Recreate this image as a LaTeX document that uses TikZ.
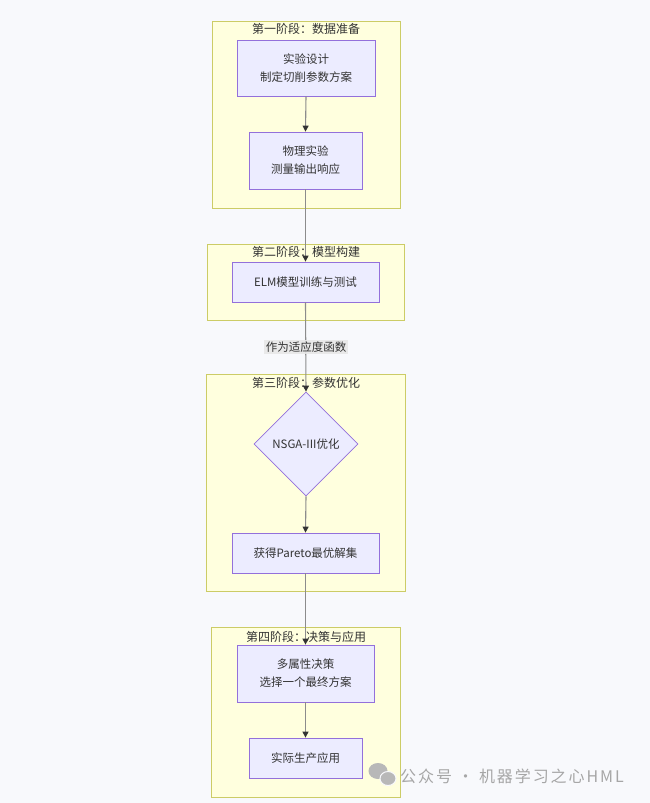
\documentclass[tikz,border=0pt]{standalone}
\usepackage{fontspec}
\setmainfont{Noto Sans CJK SC}
\newfontfamily\wmfont[LetterSpace=12]{Noto Sans CJK SC}
\usetikzlibrary{shapes.geometric,arrows.meta}
\definecolor{bgc}{HTML}{F8F9FC}
\definecolor{clfill}{HTML}{FFFFDE}
\definecolor{clline}{HTML}{CCCC66}
\definecolor{ndfill}{HTML}{ECECFF}
\definecolor{ndline}{HTML}{9370DB}
\definecolor{edge}{HTML}{8C8C8C}
\definecolor{tipc}{HTML}{333333}
\definecolor{txt}{HTML}{333333}
\definecolor{lblbg}{HTML}{E8E8E8}
\definecolor{wm}{HTML}{A6A6A6}
\tikzset{
  cluster/.style={draw=clline, fill=clfill, line width=0.8pt, inner sep=0pt},
  ctitle/.style={font=\fontsize{12}{14}\selectfont, text=txt, inner sep=0pt},
  box/.style={draw=ndline, fill=ndfill, line width=0.8pt, inner sep=0pt, align=center,
    font=\fontsize{11.5}{18}\selectfont, text=txt},
  dia/.style={diamond, draw=ndline, fill=ndfill, line width=0.8pt, inner sep=0pt,
    font=\fontsize{11.5}{14}\selectfont, text=txt},
  flow/.style={draw=edge, line width=1.1pt, -{Triangle[length=6pt,width=6pt,color=tipc]}},
  elabel/.style={fill=lblbg, fill opacity=0.9, text opacity=1, text=txt,
    font=\fontsize{11.5}{14}\selectfont, inner xsep=2pt, inner ysep=2pt}
}
\begin{document}
\begin{tikzpicture}[x=1pt,y=-1pt]
\fill[bgc] (0,0) rectangle (650,803);
\useasboundingbox (0,0) rectangle (650,803);
% clusters
\node[cluster, minimum width=188pt, minimum height=187pt] (c1) at (306,114.5) {};
\node[cluster, minimum width=197pt, minimum height=76pt] (c2) at (305.5,282) {};
\node[cluster, minimum width=199pt, minimum height=217pt] (c3) at (305.5,482.5) {};
\node[cluster, minimum width=189pt, minimum height=170pt] (c4) at (305.5,712) {};
\node[ctitle] (t1) at (306,29) {第一阶段：数据准备};
\node[ctitle] (t2) at (306,252) {第二阶段：模型构建};
\node[ctitle] (t3) at (306,383) {第三阶段：参数优化};
\node[ctitle] (t4) at (306,637) {第四阶段：决策与应用};
% nodes
\node[box, minimum width=138pt, minimum height=56pt] (A) at (306,68) {实验设计\\制定切削参数方案};
\node[box, minimum width=113pt, minimum height=57pt] (B) at (305.5,160.5) {物理实验\\测量输出响应};
\node[box, minimum width=147pt, minimum height=40pt] (C) at (305.5,282) {ELM模型训练与测试};
\node[dia, minimum width=104pt, minimum height=104pt] (D) at (306,444) {NSGA-III优化};
\node[box, minimum width=147pt, minimum height=40pt] (E) at (305.5,553) {获得Pareto最优解集};
\node[box, minimum width=137pt, minimum height=57pt] (F) at (305.5,673.5) {多属性决策\\选择一个最终方案};
\node[box, minimum width=113pt, minimum height=40pt] (G) at (305.5,758) {实际生产应用};
% edges
\draw[flow] (A.south) -- (B.north);
\draw[flow] (B.south) -- (C.north);
\draw[flow] (C.south) -- (D.north);
\node[elabel] (L) at (306,347) {作为适应度函数};
\draw[flow] (D.south) -- (E.north);
\draw[flow] (E.south) -- (F.north);
\draw[flow] (F.south) -- (G.north);
% watermark
\fill[wm!80] (378,771) ellipse (9.5pt and 8pt);
\fill[wm!80, draw=bgc, line width=1pt] (388,778.5) ellipse (8pt and 7pt);
\node[anchor=west, text=wm, font=\wmfont\fontsize{16}{18}\selectfont, inner sep=0pt] (W) at (400,776) {公众号 · 机器学习之心HML};
\end{tikzpicture}
\end{document}
